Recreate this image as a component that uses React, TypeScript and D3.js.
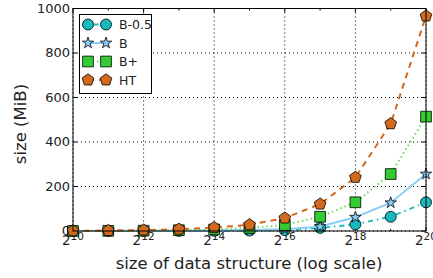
import { useEffect, useRef } from 'react';
import * as d3 from 'd3';

const exps = [10, 11, 12, 13, 14, 15, 16, 17, 18, 19, 20];
const b05 = [0.1, 0.2, 0.3, 0.5, 1, 2, 4, 14, 30, 64, 129];
const bPlain = [0.2, 0.4, 0.6, 1, 2, 4, 8, 20, 62, 127, 256];
const bPlus = [0.4, 0.8, 1.5, 3.5, 7, 14, 27, 64, 129, 256, 514];
const ht = [1, 2, 4, 8, 15, 28, 58, 121, 241, 482, 966];
const yTicks = [0, 200, 400, 600, 800, 1000];
const xMajor = [10, 12, 14, 16, 18, 20];
const xMinor = [11, 13, 15, 17, 19];

const series = [
  { name: 'B-0.5', values: b05, line: '#17bfbf', fill: '#17b9bd', dash: '1.5,4,5,4', width: 2, marker: 'circle' },
  { name: 'B', values: bPlain, line: '#8ecdf5', fill: '#87cefa', dash: 'none', width: 2, marker: 'star' },
  { name: 'B+', values: bPlus, line: '#6ddc5c', fill: '#33cc33', dash: '1.5,3', width: 2, marker: 'square' },
  { name: 'HT', values: ht, line: '#d2691e', fill: '#d2691e', dash: '6,5', width: 2, marker: 'pentagon' },
];

const symbols: Record<string, any> = {
  circle: d3.symbol().type(d3.symbolCircle).size(95),
  star: d3.symbol().type(d3.symbolStar).size(40),
  square: d3.symbol().type(d3.symbolSquare).size(115),
  pentagon: d3.symbol().type({
    draw(ctx: any, size: number) {
      const r = Math.sqrt(size / 2.38);
      for (let i = 0; i < 5; i++) {
        const a = -Math.PI / 2 + (i * 2 * Math.PI) / 5;
        const x = r * Math.cos(a), y = r * Math.sin(a);
        if (i === 0) ctx.moveTo(x, y); else ctx.lineTo(x, y);
      }
      ctx.closePath();
    },
  }).size(90),
};

export default function App() {
  const ref = useRef<SVGSVGElement>(null);

  useEffect(() => {
    const svg = d3.select(ref.current);
    svg.selectAll('*').remove();
    const W = 433, H = 278;
    const left = 73, right = 426, top = 8.5, bottom = 231;
    const font = 'DejaVu Sans, sans-serif';

    const x = d3.scaleLinear().domain([10, 20]).range([left, right]);
    const y = d3.scaleLinear().domain([0, 1000]).range([bottom, top]);

    svg.append('rect').attr('width', W).attr('height', H).attr('fill', '#fff');

    // grid
    xMajor.forEach(e => {
      svg.append('line').attr('x1', x(e)).attr('x2', x(e)).attr('y1', top).attr('y2', bottom)
        .attr('stroke', '#000').attr('stroke-width', 1).attr('stroke-dasharray', '1,3');
    });
    yTicks.forEach(t => {
      svg.append('line').attr('x1', left).attr('x2', right).attr('y1', y(t)).attr('y2', y(t))
        .attr('stroke', '#000').attr('stroke-width', 1).attr('stroke-dasharray', '1,3');
    });

    // ticks
    xMajor.forEach(e => {
      svg.append('line').attr('x1', x(e)).attr('x2', x(e)).attr('y1', bottom).attr('y2', bottom - 4).attr('stroke', '#000');
      svg.append('line').attr('x1', x(e)).attr('x2', x(e)).attr('y1', top).attr('y2', top + 4).attr('stroke', '#000');
      const t = svg.append('text').attr('x', x(e)).attr('y', 245).attr('text-anchor', 'middle')
        .attr('font-family', font).attr('font-size', 13.5).attr('fill', '#222');
      t.append('tspan').text('2');
      t.append('tspan').attr('dy', -5).attr('font-size', 10.5).text(String(e));
    });
    xMinor.forEach(e => {
      svg.append('line').attr('x1', x(e)).attr('x2', x(e)).attr('y1', bottom).attr('y2', bottom - 2).attr('stroke', '#000');
      svg.append('line').attr('x1', x(e)).attr('x2', x(e)).attr('y1', top).attr('y2', top + 2).attr('stroke', '#000');
    });
    yTicks.forEach(t => {
      svg.append('line').attr('x1', left).attr('x2', left + 4).attr('y1', y(t)).attr('y2', y(t)).attr('stroke', '#000');
      svg.append('line').attr('x1', right).attr('x2', right - 4).attr('y1', y(t)).attr('y2', y(t)).attr('stroke', '#000');
      svg.append('text').attr('x', left - 3).attr('y', y(t) + 4).attr('text-anchor', 'end')
        .attr('font-family', font).attr('font-size', 13).attr('fill', '#222').text(t);
    });

    // series
    const plot = svg.append('g');
    series.forEach(s => {
      const line = d3.line<number>().x((_, i) => x(exps[i])).y(d => y(d));
      plot.append('path').datum(s.values).attr('d', line).attr('fill', 'none')
        .attr('stroke', s.line).attr('stroke-width', s.width).attr('stroke-dasharray', s.dash);
      s.values.forEach((v, i) => {
        plot.append('path').attr('d', symbols[s.marker]())
          .attr('transform', `translate(${x(exps[i])},${y(v)})`)
          .attr('fill', s.fill).attr('stroke', '#000').attr('stroke-width', 0.8);
      });
    });

    // frame
    svg.append('rect').attr('x', left).attr('y', top).attr('width', right - left).attr('height', bottom - top)
      .attr('fill', 'none').attr('stroke', '#000').attr('stroke-width', 1);

    // legend
    const lg = svg.append('g');
    lg.append('rect').attr('x', 79.5).attr('y', 14.5).attr('width', 72).attr('height', 79)
      .attr('fill', '#fff').attr('stroke', '#000').attr('stroke-width', 1);
    series.forEach((s, i) => {
      const cy = 24.5 + i * 18.5;
      lg.append('line').attr('x1', 88).attr('x2', 106).attr('y1', cy).attr('y2', cy)
        .attr('stroke', s.line).attr('stroke-width', s.width).attr('stroke-dasharray', s.dash);
      [88, 106].forEach(cx => {
        lg.append('path').attr('d', symbols[s.marker]()).attr('transform', `translate(${cx},${cy})`)
          .attr('fill', s.fill).attr('stroke', '#000').attr('stroke-width', 0.8);
      });
      lg.append('text').attr('x', 119).attr('y', cy + 4.5).attr('font-family', font).attr('font-size', 12.5)
        .attr('fill', '#222').text(s.name);
    });

    // axis labels
    svg.append('text').attr('x', 249).attr('y', 268.7).attr('text-anchor', 'middle')
      .attr('font-family', font).attr('font-size', 16.5).attr('fill', '#222').text('size of data structure (log scale)');
    svg.append('text').attr('transform', `translate(26,124) rotate(-90)`).attr('text-anchor', 'middle')
      .attr('font-family', font).attr('font-size', 16.5).attr('fill', '#222').text('size (MiB)');
  }, []);

  return <svg ref={ref} width={433} height={278} style={{ position: 'absolute', left: 0, top: 0 }} />;
}
